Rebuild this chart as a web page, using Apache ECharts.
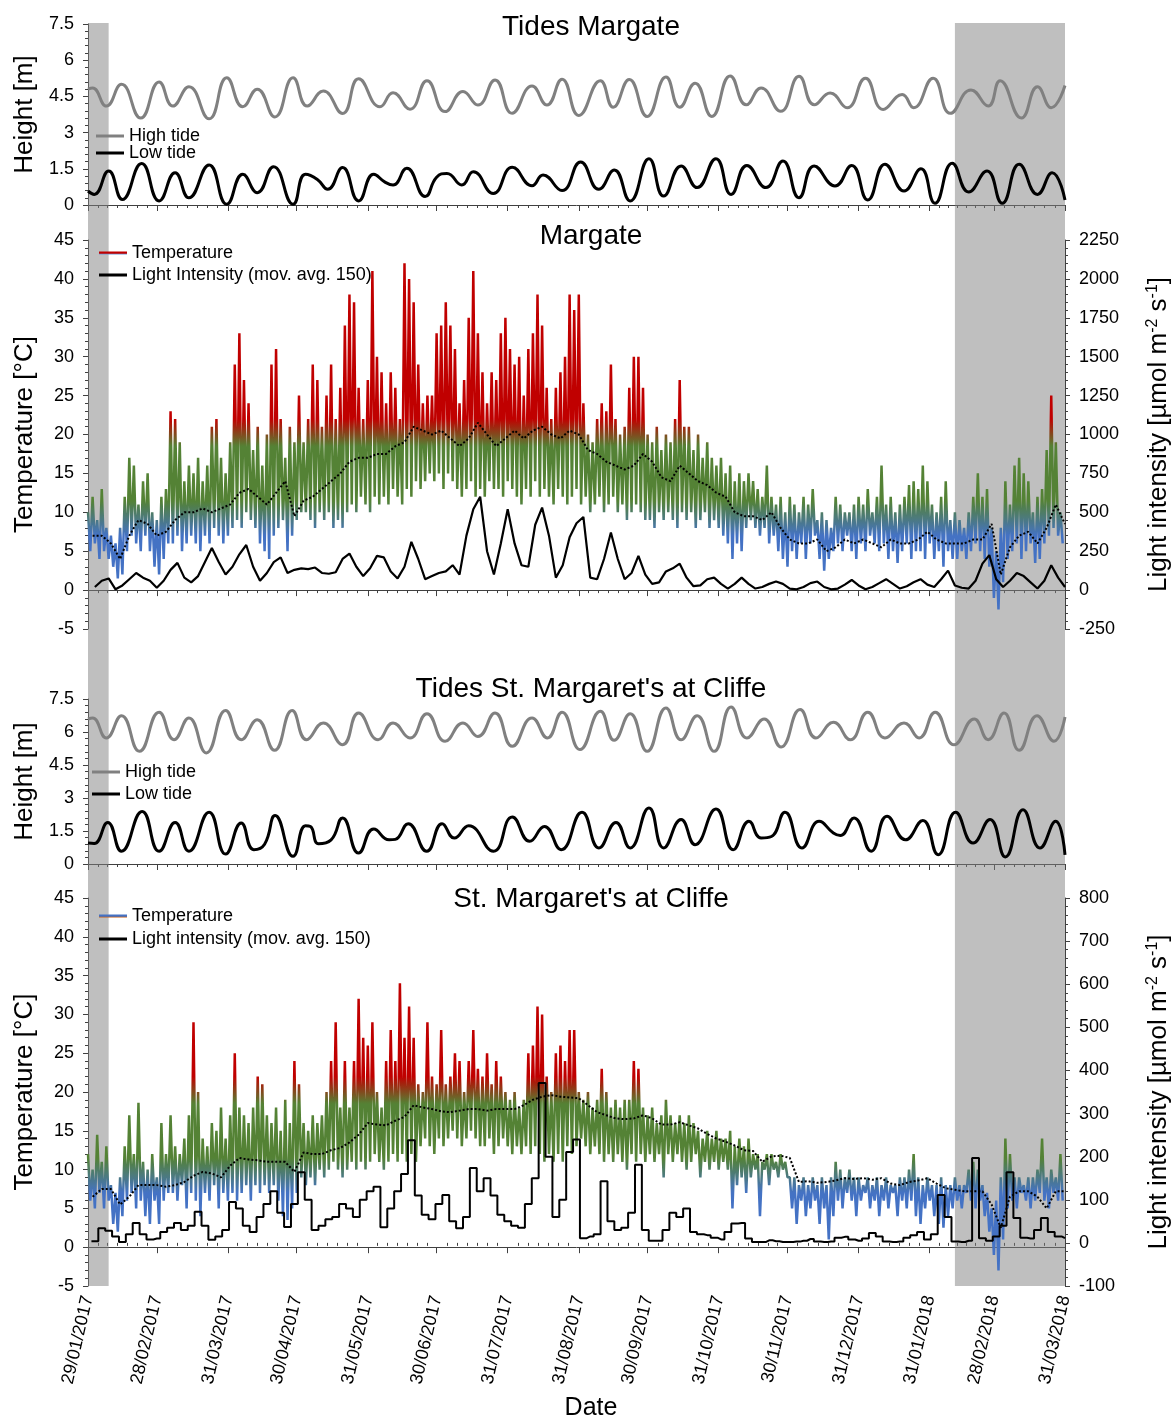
<!DOCTYPE html>
<html><head><meta charset="utf-8">
<script src="https://cdn.jsdelivr.net/npm/echarts@6/dist/echarts.min.js"></script>
<style>html,body{margin:0;padding:0;background:#fff}#c{width:1176px;height:1421px}</style>
</head><body><div id="c"></div>
<script>
// ---------------- DATA ----------------
const tickLabels = ['29/01/2017','28/02/2017','31/03/2017','30/04/2017','31/05/2017','30/06/2017','31/07/2017','31/08/2017','30/09/2017','31/10/2017','30/11/2017','31/12/2017','31/01/2018','28/02/2018','31/03/2018'];
const shadedPeriods = [['29/01/2017','07/02/2017'],['11/02/2018','31/03/2018']];

// tides: [day since 29/01/2017, height m] at the turning points of each curve
const tideHighMargate = [[0,4.8],[2,4.85],[8,4.1],[14.6,5.0],[23,3.6],[31,5.1],[37,4.1],[44,4.9],[52.8,3.57],[60.5,5.27],[67.5,4.07],[73.8,4.8],[81.5,3.65],[89.4,5.27],[95.6,4.1],[102.6,4.72],[111,3.79],[118,5.23],[127.3,4.07],[133,4.65],[140.4,3.97],[147.8,5.15],[155.7,3.87],[163.5,4.7],[170,4.14],[177.5,5.18],[184.9,3.8],[193.6,4.93],[200.1,4.14],[206.7,5.21],[214,3.71],[223.4,5.15],[229,4.05],[236,5.2],[243.8,3.67],[252,5.3],[258,4.05],[264.7,5.05],[272,3.67],[280,5.35],[287,4.15],[293.5,4.85],[302,3.88],[310,5.33],[316.7,4.15],[323.6,4.64],[331,4.03],[339,5.25],[346.7,3.96],[355,4.58],[360,4.03],[368.5,5.25],[376,3.8],[385,4.77],[392.5,4.1],[397.7,5.15],[407,3.6],[414,4.9],[420,4.03],[426,4.95]];
const tideLowMargate = [[0,0.58],[2.7,0.44],[9,1.41],[15,0.23],[23.4,1.72],[31,0.17],[38,1.34],[44,0.3],[52.8,1.66],[60.5,0.03],[67.5,1.27],[73.8,0.51],[80.9,1.59],[89.4,0.03],[94.8,1.27],[100,1.06],[104.5,0.65],[111,1.55],[118,0.17],[124.6,1.27],[129.5,0.95],[133,0.83],[139,1.52],[147,0.35],[152,1.15],[156.5,1.31],[163,0.83],[168,1.38],[176.7,0.48],[185,1.56],[193.6,0.8],[198.4,1.24],[206.7,0.6],[214.8,1.78],[222.7,0.65],[229.5,1.45],[236.4,0.17],[244.6,1.92],[251,0.37],[258.6,1.62],[265.6,0.72],[273.8,1.92],[280.4,0.44],[287.3,1.64],[295.6,0.72],[303,1.82],[310,0.3],[316.6,1.62],[325.7,0.79],[333,1.64],[340,0.21],[347.5,1.69],[355.8,0.58],[363.2,1.5],[369.3,0.07],[376.8,1.73],[384,0.54],[392,1.41],[398.6,0.07],[406,1.69],[414,0.44],[420.4,1.34],[426,0.21]];
const tideHighStM = [[0,6.59],[2,6.64],[8,5.73],[14.6,6.74],[22.4,5.12],[31,6.9],[37.5,5.65],[44,6.64],[51.6,5.05],[60,6.98],[66.8,5.65],[73.8,6.56],[81.3,5.17],[89,6.98],[95.3,5.65],[102.6,6.41],[111,5.42],[118,6.86],[126.5,5.65],[133,6.41],[140.4,5.73],[147.8,6.83],[155.7,5.58],[163.5,6.41],[170,5.8],[177.5,6.86],[185,5.35],[193.6,6.64],[200.3,5.73],[206.7,6.9],[214.5,5.2],[223.4,6.94],[229.4,5.62],[236.4,6.83],[243.8,5.12],[252,7.09],[258.6,5.65],[265.6,6.74],[273,5.12],[280.4,7.14],[287.3,5.73],[294.8,6.59],[302.2,5.32],[310.5,7.02],[317.4,5.73],[325,6.44],[332.4,5.65],[340,6.9],[347.5,5.73],[355.8,6.41],[362.4,5.73],[369.4,6.9],[377.6,5.42],[386.4,6.59],[392.5,5.65],[399.4,6.86],[406,5.17],[413.8,6.74],[421.2,5.58],[426,6.68]];
const tideLowStM = [[0,0.95],[2.7,0.93],[8.6,1.89],[14.6,0.58],[23.6,2.39],[31,0.58],[38,1.89],[44,0.58],[52.8,2.35],[60,0.45],[66.8,1.86],[72.3,0.65],[77,0.9],[81.6,2.2],[89.4,0.35],[94.8,1.74],[97,1.7],[100.5,0.92],[106,1.1],[111,2.09],[118,0.5],[124.6,1.59],[131.3,1.1],[134,1.12],[139.6,1.83],[147.7,0.58],[154.4,1.83],[159.7,1.18],[166,1.74],[176.8,0.58],[185,2.14],[192.6,1.03],[199,1.71],[206.3,0.65],[215.4,2.35],[222.8,0.73],[230.2,1.89],[236.4,0.73],[244.6,2.55],[251,0.73],[258.6,2.02],[264.7,0.88],[273.8,2.5],[281.3,0.65],[288.2,1.94],[293.5,1.18],[298,1.25],[303.9,2.35],[311.3,0.73],[318.8,1.94],[325,1.41],[328,1.3],[334,2.09],[341.5,0.58],[348.4,2.17],[356.4,1.1],[364,1.98],[370.7,0.42],[378.3,2.35],[385.9,0.95],[393.3,2.02],[400,0.32],[407.7,2.47],[415.1,0.73],[421.9,1.94],[426,0.42]];

// temperature, one max and one min per 2-day step, starting 29/01/2017 (°C)
const tempMaxMargate = [10,12,9,13,8, 7,6,8, 12,17,16,11,14, 15,10,9,12,13, 23,22,19,14, 16,15,17,14,16, 21,22,17,15,19, 29,33,27,24, 18,21,16, 20,29,31, 22,17,21,19,25, 19,22, 29,27, 21,25,29, 22,26, 34,38,37, 26, 22,27,41,30, 28,24,28,26,22, 42,40,37, 29,24,25, 25,33,34,37,34, 31,24, 27,35,41,33,28, 24,28,27,33, 35,31, 29,30,25, 31,33,38,34, 26,22, 26,28, 30,38,36, 38,24, 20,19,22, 24,23,29,22, 20,21, 26, 30,30,26,20, 19,21,18,20,19, 22,27,21, 21,18,20,17,19,17, 16,17,15,16,14, 15,14, 15,14, 13,12,16, 12,11,12,10,12,11,10,12, 11,13, 9,10,9,8, 12,11,10, 10,11,12,11,13,10, 12,16,11, 12,10,11,12,13.5, 14,13,16,14, 11,10,12,14, 9,10,9,8,10, 12,15,12,13, 8,5, 8,14, 11,16,17, 15,14, 10,12,13, 18,25,19,10];
const tempMinMargate = [5,6,4,5,4, 3,1.5,2, 5,7,6,5,7, 5,3,2,4,6, 6,7,5,6,7,6,5, 7,6,8,7,6,7,8, 9,8,10,9, 8,6,5,4,7, 8,9,5,7,9,10, 10,9,8,10,9,10,8,9, 8,10,11,10,12,11,10,12,11,12,11,13,12,11,13,12,14,13, 14,15,14,15,13,15,14, 13,12,13,14,12,13,12,14,13, 13,12,14,13,12,11,13,12,14,12,13, 12,11,13,12,11,12,13,11,12,10,11,12,10,11,12, 10,11,9,10,11,10,9, 9,8,10,9, 10,9,8,10,9,10,8, 9,10,8,9,8, 7,6,4,6,5, 8,9, 8,7,8,6,7, 5,4,3,5,4,6,4, 6,7, 4,2.5,4,5, 6,5,7,5,4,6,5,7,6,5, 6,4,5,3.5,5,6,4,5, 5,4,6,4,5,3,5,4, 4,5,4,5, 6,5,4,3, -1,-2.5, 1,4, 5,6,4,5,6, 3.5,4, 6,7,8,7,6];
const tempMaxStM = [12,10,14.5,11,13, 8,7,9, 13,17,12,18.6, 11,10,12,9, 16,12,17, 13,12, 14,17,29,20, 14,13, 16,15, 18,14, 17,25, 18,17,16,18, 22,21, 17,16,18, 15,19,16,24,21, 16,15,17,16,17, 20,24,29,18,24, 18, 24,32, 27,26, 29, 20, 18,24,28,24,34, 27,31,27, 21,20, 29, 22, 21,28, 21, 22,25, 24,20, 24,28, 23, 22,25, 21,24, 22,20, 19,20,18,19, 25,26,31,30, 22,20, 25,26,24, 28,28, 20,19,20,18,19, 23,20, 18,19,18,19,19, 24,23, 18,17,18,16,17, 19, 17,16,17,16,17, 16, 15,14,15,14,15,14,14,15,13, 14,13,14, 12,12,11,12,12,11,12,11, 9, 9,8,9,8,9,8,9,8,9, 11, 10,9,10,9, 9,8,9, 8,9,8,9,8,8,9, 9,10,12, 9, 8,9,8,8,9,8,8, 9,8,8, 10,11,10, 8,7,5,6, 9, 14, 12, 9,9,8,9, 9,10,14, 9,10,9, 12];
const tempMinStM = [6,5,7,5,6, 3,2,4, 6,7,5,6,4, 3,6,3,6,7, 7,6,8,5,7,6,4,7,6,8,5,7,6,7, 6, 7,8,6,8,7,8,7, 8,6,4,3.5,5,7, 9,8,9,8, 10,9,10,11,10,9,10,11,10,11,10,11,12,11,10,11,12,11,12,11,12,11, 13,14,13,12,14,13,14,15,14,13,14,15,14,13, 13,14,12,13,14,13,12, 13,12,13,12,13,12,11, 12,11,12,11, 13,12,13,14,13,12,13,12,11,12, 11,12,11,10, 12,11,12,11,12,11,12, 9, 12,11,12,11,10,11,12, 9, 11,10,11,10,11,10, 5, 8,9,7,9, 10,4,10,8,10,9,10,9, 5,3,6,4,5,6,3,5,1,4, 6,5,7,6,4,6,7,5,6,4,6,5,7,4,6, 5,6,4,3,5,6,4,3,2.5,4,5, 6,5,7,6,5,6,4,2, -1,-3, 1,5, 6,5,7,6,5,6,7,6,5,7,6,6];

// dotted running level of the temperature, one value per 4 days (°C)
const tempAvgMargate = [7,7,6,4,7,9,8.5,7,7.5,9, 10,10,10.5,10,10.5,11,12.5,13,12,11, 12.5,14,9.5,11.5,12,13,14,15,16.5,17, 17,17.5,17.5,18.5,19,21,20.5,20,20.5,19.5, 18.5,19.5,21.5,20,18.5,19.5,20.5,19.5,20.5,21, 20,19.5,20.5,20,18,17.5,16.5,16,15.5,16, 17.5,16.5,14.5,14,16,15,14,13.5,12.5,12, 10,9.5,9.5,9,10,8,6.5,6,6,6.5, 5,5.5,6.5,6,6.5,6,5.5,6.5,6,6, 6.5,7.5,6.5,6,6,6,6.5,6.5,8.5,2, 5.5,7,7.5,6,8,11,8.5];
const tempAvgStM = [6.5,7.5,7.5,5.5,6.5,8,8,8,7.8,8, 8.4,9.2,9.7,9.5,9,10.5,11.5,11.3,11.2,11, 11,11,9.7,12.2,12,12,12.5,12.8,13.5,14.5, 16,15.8,15.7,16.3,16.8,18.3,18,17.8,17.5,17.4, 17.6,17.8,17.8,17.6,17.8,17.8,17.8,18.3,19,19.4, 19.6,19.4,19.3,19.2,18.3,17.4,17,16.6,16.5,16.6, 17,16.6,15.8,15.8,16.1,15.7,15.3,14.6,14,13.6, 13.1,12.5,12.4,11,11.7,11.8,11.5,8.4,8.5,8.3, 8.4,8.6,8.9,8.8,8.9,8.7,8.9,8.2,8,8.4, 8.6,8.9,8.2,7.6,7.4,7.2,7.2,7.2,5.5,2.5, 6.5,7.2,7.2,6.5,5,7.2,7.2];

// light intensity, moving average, one value per 3 days (µmol m-2 s-1)
const lightMargate = [null,20,60,75,5,30,70,110,80,60, 15,60,130,175,80,50,90,180,270,180, 100,150,230,290,150,60,110,180,210,110, 130,140,135,145,110,105,115,200,235,150, 90,140,220,210,120,75,150,310,200,70, 90,110,120,160,100,350,520,600,250,100, 300,520,300,160,150,420,530,350,80,160, 340,430,470,80,70,200,370,200,70,110, 220,100,40,50,120,140,170,80,25,30, 70,80,40,10,40,80,40,10,20,40, 55,40,10,5,20,45,55,20,5,10, 35,65,30,5,20,45,70,40,10,25, 50,70,35,20,70,125,30,15,10,60, 170,225,70,20,60,110,90,50,10,60, 160,80,20];
const lightStM = [null,4,34,28,15,2,20,46,20,8, 10,25,35,46,30,40,72,40,7,15, 30,95,80,40,25,60,90,120,70,37, 90,164,100,30,40,55,60,90,80,60, 100,120,130,36,80,120,160,238,110,65, 55,90,111,50,34,60,174,120,150,110, 65,50,40,35,90,150,371,200,60,100, 211,240,11,15,20,143,50,30,35,70, 181,30,5,5,30,70,60,80,25,20, 18,12,8,25,45,46,10,2,2,6, 4,2,2,3,5,9,3,2,3,12, 14,8,5,10,23,15,3,2,3,12, 18,25,8,20,111,60,3,2,5,197, 11,5,15,40,164,58,12,10,30,58, 25,15,11];

// ---------------- CHART ----------------
const FONT = '"Liberation Sans", Arial, sans-serif';
const AX = '#404040';
function dayOf(s){const p=s.split('/').map(Number);return Math.round((Date.UTC(p[2],p[1]-1,p[0])-Date.UTC(2017,0,29))/86400000);}
const tickDays = tickLabels.map(dayOf);
const XMAX = tickDays[tickDays.length-1];
const minorDays = [];
for(let i=0;i<tickDays.length-1;i++){const a=tickDays[i],b=tickDays[i+1];for(let k=1;k<7;k++)minorDays.push(a+(b-a)*k/7);}

function hex(c){return [parseInt(c.slice(1,3),16),parseInt(c.slice(3,5),16),parseInt(c.slice(5,7),16)];}
const colorStops=[[5,'#4472C4'],[7,'#4472C4'],[11.5,'#548235'],[18.5,'#548235'],[22,'#C00000'],[45,'#C00000']];
function colorAt(t){for(let i=0;i<colorStops.length-1;i++){const [a,ca]=colorStops[i],[b,cb]=colorStops[i+1];if(t>=a&&t<=b){const f=(t-a)/(b-a),A=hex(ca),B=hex(cb);return 'rgb('+A.map((v,j)=>Math.round(v+(B[j]-v)*f)).join(',')+')';}}return colorStops[colorStops.length-1][1];}
const tempColors=[];for(let t=5;t<=45;t+=0.5)tempColors.push(colorAt(t));

const zig=(mx,mn)=>mx.flatMap((v,i)=>[[2*i,v],[2*i+1,mn[i]]]);
const every=(arr,step,off)=>arr.map((v,i)=>[step*i+off,v]);

const G={left:88,right:111,outerBoundsMode:'none',containLabel:false};
const grids=[
 Object.assign({top:23,height:1263},G),
 Object.assign({top:24,height:181},G),
 Object.assign({top:240,height:389},G),
 Object.assign({top:699,height:165},G),
 Object.assign({top:898,height:388},G)
];
function majorX(g){return {type:'value',gridIndex:g,min:0,max:XMAX,position:'bottom',axisLine:{show:true,onZero:true,lineStyle:{color:AX,width:1}},axisTick:{show:true,length:6,customValues:tickDays,lineStyle:{color:AX}},axisLabel:{show:false},splitLine:{show:false}};}
function minorX(g){return {type:'value',gridIndex:g,min:0,max:XMAX,position:'bottom',axisLine:{show:false,onZero:true},axisTick:{show:true,length:3,customValues:minorDays,lineStyle:{color:AX}},axisLabel:{show:false},splitLine:{show:false}};}
const labelStyle={fontSize:18,color:'#000',fontFamily:FONT};
function yAx(g,min,max,interval,pos,name,nameGap,rich){
 const o={type:'value',gridIndex:g,min,max,interval,position:pos,
  axisLine:{show:true,onZero:false,lineStyle:{color:AX}},
  axisTick:{show:true,length:5,lineStyle:{color:AX}},
  minorTick:{show:true,splitNumber:5,length:3,lineStyle:{color:AX}},
  axisLabel:Object.assign({margin:14,formatter:v=>String(v)},labelStyle),
  splitLine:{show:false},minorSplitLine:{show:false},
  name,nameLocation:'middle',nameGap,
  nameTextStyle:{fontSize:26,color:'#000',fontFamily:FONT}};
 if(rich)o.nameTextStyle.rich=rich;
 return o;
}
const supRich={sup:{fontSize:16,fontFamily:FONT,color:'#000',padding:[0,0,12,0]}};

const legendText={fontSize:18,color:'#000',fontFamily:FONT};
const legendCommon={orient:'vertical',icon:'rect',itemWidth:28,itemHeight:3,textStyle:legendText};
const tempLegendM={name:'Temperature',itemStyle:{color:new echarts.graphic.LinearGradient(0,0,0,1,[{offset:0,color:'#C00000'},{offset:0.55,color:'#C00000'},{offset:1,color:'#6f9ad8'}])}};
const tempLegendS={name:'Temperature',itemStyle:{color:new echarts.graphic.LinearGradient(0,0,0,1,[{offset:0,color:'#4472C4'},{offset:0.55,color:'#4472C4'},{offset:1,color:'#C55A11'}])}};

const bandData=shadedPeriods.map(p=>[{xAxis:dayOf(p[0])},{xAxis:dayOf(p[1])}]);

const titleFont='28px '+FONT;
const option={
 animation:false,
 backgroundColor:'#fff',
 grid:grids,
 xAxis:[
  {type:'value',gridIndex:0,min:0,max:XMAX,position:'bottom',axisLine:{show:false},axisTick:{show:false},splitLine:{show:false},
   axisLabel:Object.assign({customValues:tickDays,rotate:77,margin:10,formatter:v=>tickLabels[tickDays.indexOf(v)]||''},labelStyle)},
  majorX(1),majorX(2),majorX(3),majorX(4),
  minorX(1),minorX(2),minorX(3),minorX(4)
 ],
 yAxis:[
  {type:'value',gridIndex:0,min:0,max:1,show:false},
  yAx(1,0,7.5,1.5,'left','Height [m]',48),
  yAx(2,-5,45,5,'left','Temperature [°C]',50),
  yAx(2,-250,2250,250,'right','Light intensity [µmol m{sup|-2} s{sup|-1}]',80,supRich),
  yAx(3,0,7.5,1.5,'left','Height [m]',48),
  yAx(4,-5,45,5,'left','Temperature [°C]',50),
  yAx(4,-100,800,100,'right','Light intensity [µmol m{sup|-2} s{sup|-1}]',80,supRich)
 ],
 visualMap:[
  {type:'continuous',show:false,seriesIndex:3,dimension:1,min:5,max:45,inRange:{color:tempColors},outOfRange:{color:'#4472C4'}},
  {type:'continuous',show:false,seriesIndex:8,dimension:1,min:5,max:45,inRange:{color:tempColors},outOfRange:{color:'#4472C4'}}
 ],
 legend:[
  Object.assign({data:['High tide','Low tide'],left:91,top:122,itemGap:-1},legendCommon),
  Object.assign({data:[tempLegendM,'Light Intensity (mov. avg. 150)'],left:94,top:239,itemGap:4},legendCommon),
  Object.assign({data:['High tide','Low tide'],left:87,top:758,itemGap:4},legendCommon),
  Object.assign({data:[tempLegendS,'Light intensity (mov. avg. 150)'],left:94,top:902,itemGap:5},legendCommon)
 ],
 graphic:[
  {type:'text',x:591,y:27,style:{text:'Tides Margate',font:titleFont,fill:'#000',textAlign:'center',textVerticalAlign:'middle'}},
  {type:'text',x:591,y:236,style:{text:'Margate',font:titleFont,fill:'#000',textAlign:'center',textVerticalAlign:'middle'}},
  {type:'text',x:591,y:689,style:{text:"Tides St. Margaret's at Cliffe",font:titleFont,fill:'#000',textAlign:'center',textVerticalAlign:'middle'}},
  {type:'text',x:591,y:899,style:{text:"St. Margaret's at Cliffe",font:titleFont,fill:'#000',textAlign:'center',textVerticalAlign:'middle'}},
  {type:'text',x:591,y:1408,style:{text:'Date',font:'25px '+FONT,fill:'#000',textAlign:'center',textVerticalAlign:'middle'}}
 ],
 series:[
  {type:'line',xAxisIndex:0,yAxisIndex:0,data:[],z:20,silent:true,
   markArea:{silent:true,itemStyle:{color:'rgba(128,128,128,0.5)'},data:bandData}},
  {name:'High tide',type:'line',xAxisIndex:1,yAxisIndex:1,data:tideHighMargate,smooth:0.5,symbol:'none',lineStyle:{color:'#808080',width:3},itemStyle:{color:'#808080'}},
  {name:'Low tide',type:'line',xAxisIndex:1,yAxisIndex:1,data:tideLowMargate,smooth:0.5,symbol:'none',lineStyle:{color:'#000',width:3},itemStyle:{color:'#000'}},
  {name:'Temperature',type:'line',xAxisIndex:2,yAxisIndex:2,data:zig(tempMaxMargate,tempMinMargate),symbol:'none',lineStyle:{width:2.5}},
  {name:'Temperature avg',type:'line',xAxisIndex:2,yAxisIndex:2,data:every(tempAvgMargate,4,2),symbol:'none',lineStyle:{color:'#000',width:2,type:[2,2]},itemStyle:{color:'#000'}},
  {name:'Light Intensity (mov. avg. 150)',type:'line',xAxisIndex:2,yAxisIndex:3,data:every(lightMargate,3,0),symbol:'none',lineStyle:{color:'#000',width:2.2},itemStyle:{color:'#000'}},
  {name:'High tide',type:'line',xAxisIndex:3,yAxisIndex:4,data:tideHighStM,smooth:0.5,symbol:'none',lineStyle:{color:'#808080',width:3},itemStyle:{color:'#808080'}},
  {name:'Low tide',type:'line',xAxisIndex:3,yAxisIndex:4,data:tideLowStM,smooth:0.5,symbol:'none',lineStyle:{color:'#000',width:3},itemStyle:{color:'#000'}},
  {name:'Temperature',type:'line',xAxisIndex:4,yAxisIndex:5,data:zig(tempMaxStM,tempMinStM),symbol:'none',lineStyle:{width:2.5}},
  {name:'Temperature avg',type:'line',xAxisIndex:4,yAxisIndex:5,data:every(tempAvgStM,4,2),symbol:'none',lineStyle:{color:'#000',width:2,type:[2,2]},itemStyle:{color:'#000'}},
  {name:'Light intensity (mov. avg. 150)',type:'line',xAxisIndex:4,yAxisIndex:6,data:every(lightStM,3,0),step:'middle',symbol:'none',lineStyle:{color:'#000',width:2},itemStyle:{color:'#000'}}
 ]
};
const chart=echarts.init(document.getElementById('c'),null,{renderer:'canvas'});
chart.setOption(option);
</script>
</body></html>
